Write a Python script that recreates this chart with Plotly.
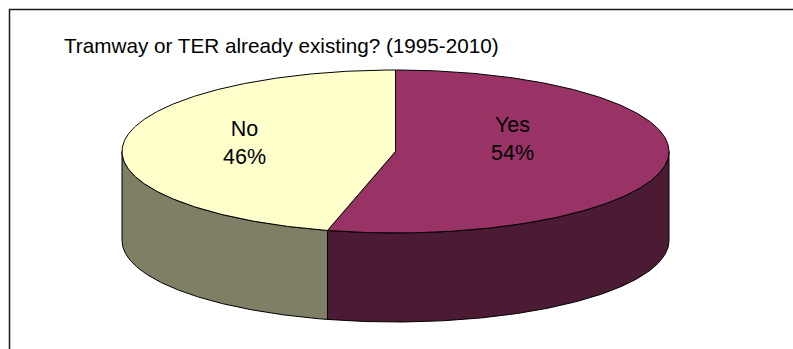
import numpy as np
import plotly.graph_objects as go

# Survey answers
categories = ["Yes", "No"]
shares = [54, 46]
title_text = "Tramway or TER already existing? (1995-2010)"

top_colors = {"Yes": "#993366", "No": "#FFFFCC"}
side_colors = {"Yes": "#4B1A33", "No": "#7F7F66"}
# how far out along each slice's bisector its label sits (fraction of radius)
label_radius = {"Yes": 0.43, "No": 0.555}
label_lift = {"Yes": 13, "No": 9}

W, H = 793, 349
# Tilted-disc geometry (in pixel-like axis units)
cx, cy = 395.5, 151.5
ra, rb = 273.5, 81.5
depth = 89


def rim(theta_deg, drop=0.0):
    t = np.radians(theta_deg)
    return cx + ra * np.sin(t), cy - rb * np.cos(t) + drop


fig = go.Figure()

# slice start/end angles, clockwise from 12 o'clock
total = float(sum(shares))
bounds = []
start = 0.0
for cat, v in zip(categories, shares):
    end = start + 360.0 * v / total
    bounds.append((cat, start, end))
    start = end

# visible walls: front half of the disc (90..270 degrees)
for cat, s, e in bounds:
    a0, a1 = max(s, 90.0), min(e, 270.0)
    if a1 <= a0:
        continue
    th = np.linspace(a0, a1, 200)
    xt, yt = rim(th)
    xb, yb = rim(th[::-1], depth)
    xs = np.concatenate([xt, xb, xt[:1]])
    ys = np.concatenate([yt, yb, yt[:1]])
    fig.add_trace(go.Scatter(x=xs, y=ys, mode="lines", fill="toself",
                             fillcolor=side_colors[cat],
                             line=dict(color="black", width=1),
                             hoverinfo="skip", showlegend=False))

# top faces
for cat, s, e in bounds:
    th = np.linspace(s, e, 300)
    xt, yt = rim(th)
    xs = np.concatenate([[cx], xt, [cx]])
    ys = np.concatenate([[cy], yt, [cy]])
    fig.add_trace(go.Scatter(x=xs, y=ys, mode="lines", fill="toself",
                             fillcolor=top_colors[cat],
                             line=dict(color="black", width=1),
                             hoverinfo="skip", showlegend=False))

# category / percentage labels near the middle of each slice
for cat, s, e in bounds:
    mid = np.radians((s + e) / 2.0)
    lx = cx + label_radius[cat] * ra * np.sin(mid)
    ly = cy - label_lift[cat]
    pct = shares[categories.index(cat)]
    fig.add_annotation(x=lx, y=ly, text=f"{cat}<br>{pct}%", showarrow=False,
                       font=dict(family="Liberation Sans, Arial", size=21.5, color="black"),
                       xanchor="center", yanchor="middle")

fig.add_annotation(x=62, y=45, text=title_text, showarrow=False,
                   xanchor="left", yanchor="middle",
                   font=dict(family="Liberation Sans, Arial", size=20.7, color="black"))

# chart-area frame
fig.add_shape(type="rect", x0=9.5, y0=9.5, x1=W + 20, y1=H + 20,
              line=dict(color="#1a1a1a", width=1.5), fillcolor="rgba(0,0,0,0)",
              layer="below")

fig.update_layout(
    width=W, height=H,
    margin=dict(l=0, r=0, t=0, b=0),
    paper_bgcolor="white", plot_bgcolor="white",
    xaxis=dict(range=[0, W], visible=False, fixedrange=True),
    yaxis=dict(range=[H, 0], visible=False, fixedrange=True),
)

fig.write_html("out.html")
